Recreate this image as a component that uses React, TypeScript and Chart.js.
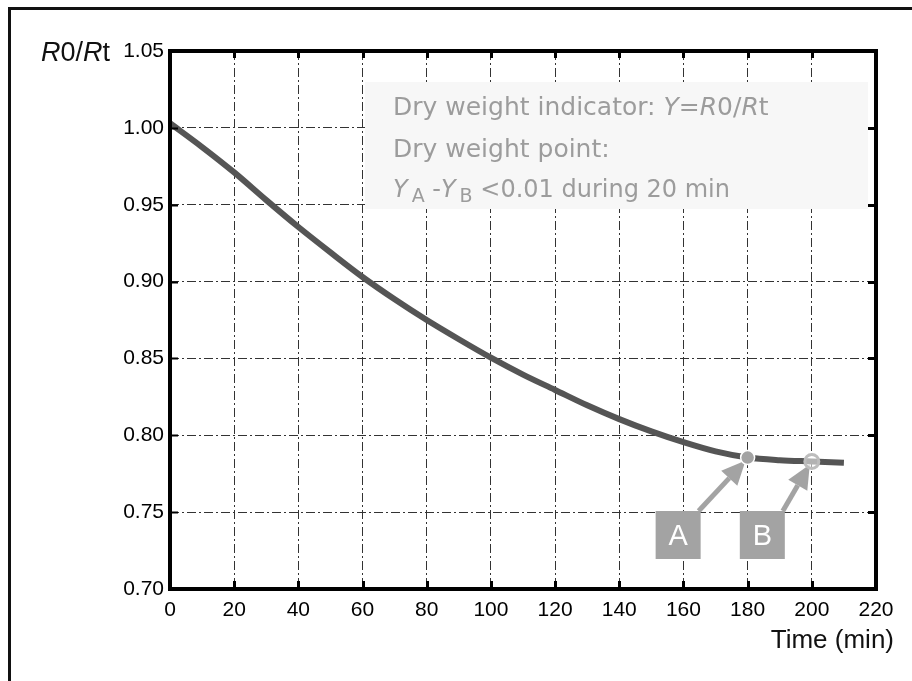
import React, { useEffect, useRef } from "react";
import { Chart, registerables } from "chart.js";

Chart.register(...registerables);

// ---- data ----
const timeMin = [0, 10, 20, 30, 40, 50, 60, 70, 80, 90, 100, 110, 120, 130, 140, 150, 160, 170, 180, 190, 200, 210];
const ratioValues = [1.003, 0.9875, 0.971, 0.953, 0.9355, 0.919, 0.903, 0.8885, 0.875, 0.8625, 0.8505, 0.8395, 0.8295, 0.8195, 0.8105, 0.8025, 0.7955, 0.7895, 0.7855, 0.7838, 0.783, 0.7822];
const markerTimes = [180, 200];
const markerValues = [0.7855, 0.783];
const markerLabels = ["A", "B"];
const xTickValues = [0, 20, 40, 60, 80, 100, 120, 140, 160, 180, 200, 220];
const yTickValues = [0.7, 0.75, 0.8, 0.85, 0.9, 0.95, 1.0, 1.05];

const FONT = "'Liberation Sans', Arial, sans-serif";
const BOXFONT = "'DejaVu Sans', 'Liberation Sans', sans-serif";
const GRAY = "#a3a3a3";

type Run = { t: string; italic?: boolean; sub?: boolean; gap?: number };

function drawRuns(ctx: CanvasRenderingContext2D, runs: Run[], x: number, y: number, size: number, color: string, family: string) {
  let cx = x;
  ctx.fillStyle = color;
  ctx.textAlign = "left";
  ctx.textBaseline = "alphabetic";
  for (const r of runs) {
    const s = r.sub ? Math.round(size * 0.8) : size;
    ctx.font = `${r.italic ? "italic " : ""}${s}px ${family}`;
    const dy = r.sub ? size * 0.2 : 0;
    cx += r.gap || 0;
    ctx.fillText(r.t, cx, y + dy);
    cx += ctx.measureText(r.t).width;
  }
}

function drawArrow(ctx: CanvasRenderingContext2D, x0: number, y0: number, x1: number, y1: number, color: string) {
  const ang = Math.atan2(y1 - y0, x1 - x0);
  const headLen = 24;
  const headW = 11;
  const bx = x1 - Math.cos(ang) * headLen;
  const by = y1 - Math.sin(ang) * headLen;
  ctx.save();
  ctx.strokeStyle = color;
  ctx.fillStyle = color;
  ctx.lineWidth = 5;
  ctx.beginPath();
  ctx.moveTo(x0, y0);
  ctx.lineTo(bx, by);
  ctx.stroke();
  ctx.beginPath();
  ctx.moveTo(x1, y1);
  ctx.lineTo(bx + Math.sin(ang) * headW, by - Math.cos(ang) * headW);
  ctx.lineTo(bx - Math.sin(ang) * headW, by + Math.cos(ang) * headW);
  ctx.closePath();
  ctx.fill();
  ctx.restore();
}

const decorPlugin = {
  id: "decor",
  beforeDraw(chart: any) {
    const ctx = chart.ctx as CanvasRenderingContext2D;
    ctx.save();
    ctx.fillStyle = "#ffffff";
    ctx.fillRect(0, 0, chart.width, chart.height);
    ctx.strokeStyle = "#111";
    ctx.lineWidth = 3;
    ctx.strokeRect(9.5, 8.5, 2000, 2000);
    ctx.restore();
  },
  beforeDatasetsDraw(chart: any) {
    const ctx = chart.ctx as CanvasRenderingContext2D;
    const ca = chart.chartArea;
    const xs = chart.scales.x;
    const ys = chart.scales.y;
    ctx.save();
    // info box
    const bl = ca.left + 195;
    const bt = ca.top + 31;
    const br = ca.right - 8;
    const bb = ca.top + 158;
    ctx.fillStyle = "#f7f7f7";
    ctx.fillRect(bl, bt, br - bl, bb - bt);
    const tx = bl + 28;
    const c = "#9c9c9c";
    drawRuns(ctx, [
      { t: "Dry weight indicator: " },
      { t: "Y", italic: true },
      { t: "=" },
      { t: "R", italic: true },
      { t: "0/" },
      { t: "R", italic: true },
      { t: "t" },
    ], tx, bt + 33, 25, c, BOXFONT);
    drawRuns(ctx, [{ t: "Dry weight point:" }], tx, bt + 75, 25, c, BOXFONT);
    drawRuns(ctx, [
      { t: "Y", italic: true },
      { t: "A", sub: true, gap: 4 },
      { t: " -" },
      { t: "Y", italic: true },
      { t: "B", sub: true, gap: 4 },
      { t: " <0.01 during 20 min" },
    ], tx, bt + 115, 24, c, BOXFONT);

    // label boxes and arrows
    const boxTop = ca.bottom - 78;
    const offsets = [-92, -72];
    markerTimes.forEach((t, i) => {
      const px = xs.getPixelForValue(t);
      const py = ys.getPixelForValue(markerValues[i]);
      const left = px + offsets[i];
      ctx.fillStyle = GRAY;
      ctx.fillRect(left, boxTop, 45, 48);
      ctx.fillStyle = "#ffffff";
      ctx.font = `29px ${FONT}`;
      ctx.textAlign = "center";
      ctx.textBaseline = "middle";
      ctx.fillText(markerLabels[i], left + 22.5, boxTop + 26);
      drawArrow(ctx, left + 43, boxTop, px - 2, py + 3, GRAY);
    });
    ctx.restore();
  },
  afterDatasetsDraw(chart: any) {
    const ctx = chart.ctx as CanvasRenderingContext2D;
    const ca = chart.chartArea;
    const xs = chart.scales.x;
    const ys = chart.scales.y;
    ctx.save();
    ctx.strokeStyle = "#000";
    // inward tick marks
    ctx.lineWidth = 3;
    xTickValues.forEach((v) => {
      const px = Math.round(xs.getPixelForValue(v)) + 0.5;
      ctx.beginPath();
      ctx.moveTo(px, ca.bottom);
      ctx.lineTo(px, ca.bottom - 8);
      ctx.moveTo(px, ca.top);
      ctx.lineTo(px, ca.top + 7);
      ctx.stroke();
    });
    yTickValues.forEach((v) => {
      const py = Math.round(ys.getPixelForValue(v)) + 0.5;
      ctx.lineWidth = 2;
      ctx.beginPath();
      ctx.moveTo(ca.left, py);
      ctx.lineTo(ca.left + 8, py);
      ctx.stroke();
      ctx.lineWidth = 3;
      ctx.beginPath();
      ctx.moveTo(ca.right, py);
      ctx.lineTo(ca.right - 8, py);
      ctx.stroke();
    });
    // plot frame
    ctx.lineWidth = 4;
    ctx.strokeRect(ca.left, ca.top, ca.right - ca.left, ca.bottom - ca.top);

    // axis titles
    drawRuns(ctx, [
      { t: "R", italic: true },
      { t: "0/" },
      { t: "R", italic: true },
      { t: "t" },
    ], 41, 61, 27, "#111", FONT);
    ctx.fillStyle = "#111";
    ctx.font = `26px ${FONT}`;
    ctx.textAlign = "right";
    ctx.textBaseline = "alphabetic";
    ctx.fillText("Time (min)", 894, 648);
    ctx.restore();
  },
};

export default function App() {
  const ref = useRef<HTMLCanvasElement | null>(null);
  useEffect(() => {
    if (!ref.current) return;
    const chart = new Chart(ref.current, {
      type: "line",
      data: {
        datasets: [
          {
            label: "markers",
            data: markerTimes.map((t, i) => ({ x: t, y: markerValues[i] })),
            showLine: false,
            pointRadius: 7,
            pointBackgroundColor: [GRAY, "rgba(255,255,255,0.55)"],
            pointBorderColor: ["#ffffff", "#bdbdbd"],
            pointBorderWidth: [1.5, 3],
            order: 0,
          },
          {
            label: "R0/Rt",
            data: timeMin.map((t, i) => ({ x: t, y: ratioValues[i] })),
            borderColor: "#555555",
            borderWidth: 6,
            pointRadius: 0,
            cubicInterpolationMode: "monotone",
            fill: false,
            order: 1,
          },
        ],
      },
      options: {
        animation: false,
        responsive: false,
        devicePixelRatio: 1,
        layout: { padding: { left: 0, right: 36, top: 51, bottom: 0 } },
        plugins: { legend: { display: false }, tooltip: { enabled: false } },
        scales: {
          x: {
            type: "linear",
            min: 0,
            max: 220,
            afterFit: (s: any) => { s.height = 92; },
            afterBuildTicks: (s: any) => { s.ticks = xTickValues.map((v) => ({ value: v })); },
            ticks: {
              font: { family: FONT, size: 21 },
              color: "#000",
              padding: 9,
              maxRotation: 0,
              autoSkip: false,
            },
            grid: { color: "#333", lineWidth: 1, drawTicks: false },
            border: { display: false, dash: [9, 3, 2, 3] },
          },
          y: {
            type: "linear",
            min: 0.7,
            max: 1.05,
            afterFit: (s: any) => { s.width = 170; },
            afterBuildTicks: (s: any) => { s.ticks = yTickValues.map((v) => ({ value: v })); },
            ticks: {
              font: { family: FONT, size: 21 },
              color: "#000",
              padding: 6,
              autoSkip: false,
              callback: (v: any) => Number(v).toFixed(2),
            },
            grid: { color: "#333", lineWidth: 1, drawTicks: false },
            border: { display: false, dash: [9, 3, 2, 3] },
          },
        },
      },
      plugins: [decorPlugin],
    } as any);
    return () => chart.destroy();
  }, []);
  return (
    <div style={{ position: "fixed", left: 0, top: 0, width: 912, height: 681, background: "#fff" }}>
      <canvas ref={ref} width={912} height={681} style={{ display: "block" }} />
    </div>
  );
}
